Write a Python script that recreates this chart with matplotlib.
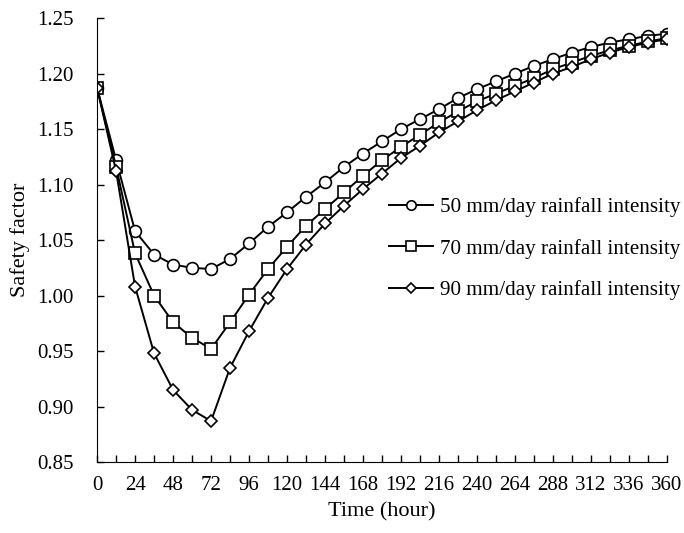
import matplotlib.pyplot as plt
from matplotlib.ticker import MultipleLocator

plt.rcParams['font.family'] = ['Liberation Serif', 'DejaVu Serif']
plt.rcParams['font.size'] = 15

hours = list(range(0, 361, 12))

sf_50 = [1.187, 1.122, 1.058, 1.037, 1.028, 1.025, 1.024, 1.033, 1.047, 1.062,
         1.075, 1.089, 1.102, 1.116, 1.128, 1.139, 1.150, 1.159, 1.168, 1.178,
         1.186, 1.193, 1.200, 1.207, 1.213, 1.219, 1.224, 1.228, 1.231, 1.234,
         1.236]
sf_70 = [1.187, 1.116, 1.038, 1.000, 0.976, 0.962, 0.952, 0.976, 1.001, 1.024,
         1.044, 1.063, 1.078, 1.093, 1.108, 1.122, 1.134, 1.145, 1.156, 1.166,
         1.175, 1.182, 1.189, 1.196, 1.204, 1.210, 1.216, 1.221, 1.225, 1.229,
         1.232]
sf_90 = [1.187, 1.112, 1.008, 0.948, 0.915, 0.897, 0.887, 0.935, 0.968, 0.998,
         1.024, 1.046, 1.065, 1.081, 1.096, 1.110, 1.124, 1.135, 1.147, 1.157,
         1.167, 1.176, 1.184, 1.192, 1.200, 1.206, 1.213, 1.219, 1.224, 1.228,
         1.231]

labels = ['50 mm/day rainfall intensity',
          '70 mm/day rainfall intensity',
          '90 mm/day rainfall intensity']

fig = plt.figure(figsize=(6.84, 5.33), dpi=100)
ax = fig.add_axes([0.142, 0.133, 0.833, 0.833])

style = dict(color='black', lw=1.4, mfc='white', mec='black', mew=1.2)
ax.plot(hours, sf_50, marker='o', ms=8.5, label=labels[0], **style)
ax.plot(hours, sf_70, marker='s', ms=8.5, label=labels[1], **style)
ax.plot(hours, sf_90, marker='D', ms=6, label=labels[2], **style)

ax.set_xlim(0, 360)
ax.set_ylim(0.85, 1.25)
ax.xaxis.set_major_locator(MultipleLocator(24))
ax.xaxis.set_minor_locator(MultipleLocator(12))
ax.yaxis.set_major_locator(MultipleLocator(0.05))
ax.yaxis.set_major_formatter(plt.FormatStrFormatter('%.2f'))
ax.tick_params(axis='both', which='both', direction='in', length=5, width=1)
ax.tick_params(axis='x', pad=10)
ax.tick_params(axis='y', pad=17)
ax.spines['top'].set_visible(False)
ax.spines['right'].set_visible(False)

ax.set_xlabel('Time (hour)', fontsize=16, labelpad=5)
ax.set_ylabel('Safety factor', fontsize=16, labelpad=5)

ax.legend(loc='upper left', bbox_to_anchor=(0.512, 0.597), frameon=False,
          fontsize=15.2, borderpad=0, borderaxespad=0, handlelength=2.1,
          handletextpad=0.3, labelspacing=1.03, markerscale=0.8)

fig.savefig('out.png', dpi=100)
